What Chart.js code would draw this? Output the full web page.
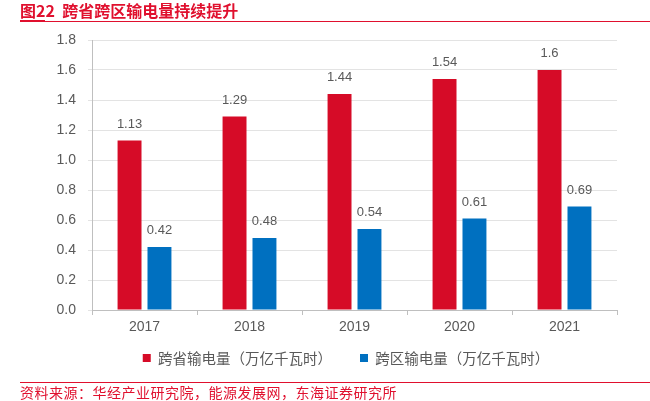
<!DOCTYPE html>
<html>
<head>
<meta charset="utf-8">
<script src="https://cdn.jsdelivr.net/npm/chart.js@4/dist/chart.umd.min.js"></script>
<style>
  html, body { margin: 0; padding: 0; background: #fff; }
  #wrap { position: relative; width: 650px; height: 401px; overflow: hidden; }
  #title { position: absolute; left: 20px; top: 1px; font-family: "Noto Sans CJK SC", sans-serif; font-weight: bold; font-size: 16px; line-height: 18px; color: #E0102E; white-space: nowrap; }
  #tline { position: absolute; left: 20px; top: 21px; width: 630px; height: 1px; background: #E0102E; }
  #tline2 { position: absolute; left: 20px; top: 20px; width: 25px; height: 2px; background: #E0102E; }
  #fline { position: absolute; left: 20px; top: 382px; width: 630px; height: 1px; background: #E0102E; }
  #foot { position: absolute; left: 20px; top: 384px; font-family: "Noto Sans CJK SC", sans-serif; font-size: 14px; line-height: 17px; color: #E0102E; white-space: nowrap; letter-spacing: 0.5px; }
  #cv { position: absolute; left: 0; top: 0; }
</style>
</head>
<body>
<div id="wrap">
  <canvas id="cv" width="650" height="401"></canvas>
  <div id="title">图22&nbsp;&nbsp;跨省跨区输电量持续提升</div>
  <div id="tline"></div>
  <div id="tline2"></div>
  <div id="fline"></div>
  <div id="foot">资料来源：华经产业研究院，能源发展网，东海证券研究所</div>
</div>
<script>
const categories = ["2017", "2018", "2019", "2020", "2021"];
const seriesNames = ["跨省输电量（万亿千瓦时）", "跨区输电量（万亿千瓦时）"];
const interProvincial = [1.13, 1.29, 1.44, 1.54, 1.6];
const interRegional = [0.42, 0.48, 0.54, 0.61, 0.69];
const yTicks = [0, 0.2, 0.4, 0.6, 0.8, 1.0, 1.2, 1.4, 1.6, 1.8];

const LEGEND_GAP = 28;
const LEGEND_CENTER_Y = 358;
const LEGEND_SHIFT_X = 10;

const valueLabels = {
  id: 'valueLabels',
  afterDatasetsDraw(chart) {
    const ctx = chart.ctx;
    ctx.save();
    ctx.font = '13px "Liberation Sans", Arial, sans-serif';
    ctx.fillStyle = '#595959';
    ctx.textAlign = 'center';
    ctx.textBaseline = 'bottom';
    chart.data.datasets.forEach((ds, i) => {
      chart.getDatasetMeta(i).data.forEach((bar, j) => {
        ctx.fillText(String(ds.data[j]), bar.x, bar.y - 10);
      });
    });
    ctx.restore();
  }
};

// place legend row at the wanted spot (labels.padding also drives the horizontal gap)
const legendPlacer = {
  id: 'legendPlacer',
  afterLayout(chart) {
    const lg = chart.legend;
    if (!lg) return;
    const itemH = 14.5;
    const wantTop = LEGEND_CENTER_Y - itemH / 2 - LEGEND_GAP;
    const d = lg.top - wantTop;
    lg.top -= d;
    lg.bottom -= d;
    lg.left += LEGEND_SHIFT_X;
    lg.right += LEGEND_SHIFT_X;
  }
};

new Chart(document.getElementById('cv'), {
  type: 'bar',
  data: {
    labels: categories,
    datasets: [
      { label: seriesNames[0], data: interProvincial, backgroundColor: '#D60B27', barPercentage: 0.8, categoryPercentage: 0.57 },
      { label: seriesNames[1], data: interRegional, backgroundColor: '#0070C0', barPercentage: 0.8, categoryPercentage: 0.57 }
    ]
  },
  options: {
    responsive: false,
    animation: false,
    devicePixelRatio: 1,
    layout: { padding: { left: 55, right: 33, top: 40, bottom: 8.5 } },
    plugins: {
      legend: {
        position: 'bottom',
        labels: {
          boxWidth: 8, boxHeight: 8, padding: LEGEND_GAP,
          color: '#595959',
          font: { family: '"Noto Sans CJK SC", sans-serif', size: 14.5 }
        }
      },
      tooltip: { enabled: false }
    },
    scales: {
      x: {
        grid: { display: true, drawOnChartArea: false, drawTicks: true, tickLength: 5, color: '#BFBFBF', offset: true },
        border: { color: '#BFBFBF' },
        ticks: { color: '#595959', font: { family: '"Liberation Sans", Arial, sans-serif', size: 14 }, padding: 4 },
        afterFit(scale) { scale.height = 30; }
      },
      y: {
        min: 0, max: 1.8,
        afterBuildTicks(scale) { scale.ticks = yTicks.map(v => ({ value: v })); },
        grid: { color: '#E3E3E3', tickLength: 4 },
        border: { color: '#BFBFBF' },
        ticks: {
          color: '#595959', padding: 12,
          font: { family: '"Liberation Sans", Arial, sans-serif', size: 14 },
          callback: v => Number(v).toFixed(1)
        },
        afterFit(scale) { scale.width = 37; }
      }
    }
  },
  plugins: [valueLabels, legendPlacer]
});
</script>
</body>
</html>
